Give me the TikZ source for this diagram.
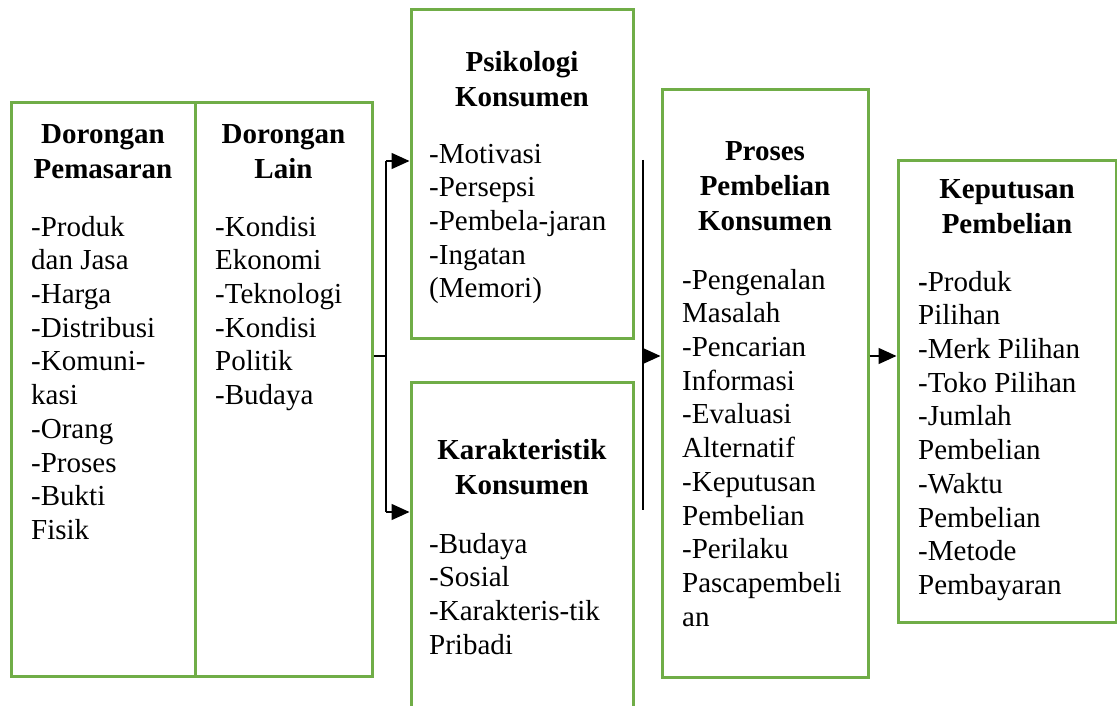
\documentclass[tikz,border=0pt]{standalone}
\usepackage{fontspec}
\setmainfont{Liberation Serif}
\usetikzlibrary{arrows.meta}
\definecolor{boxgreen}{HTML}{70AD47}
\begin{document}
\begin{tikzpicture}[x=1pt,y=-1pt,
 box/.style={draw=boxgreen, line width=3pt, rectangle, inner sep=0pt},
 head/.style={font=\fontsize{29}{35}\selectfont\bfseries, align=center, inner sep=0pt, anchor=north},
 body/.style={font=\fontsize{29}{33.7}\selectfont, align=left, inner sep=0pt, anchor=north west},
 conn/.style={line width=1.5pt},
 arr/.style={conn, -{Triangle[length=18pt,width=16pt]}}]
\useasboundingbox[fill=white] (0,0) rectangle (1117,706);
\clip (0,0) rectangle (1117,706);
% boxes
\node[box, minimum width=184pt, minimum height=573pt] (b1) at (103,389.5) {};
\node[box, minimum width=177pt, minimum height=573pt] (b2) at (283.5,389.5) {};
\node[box, minimum width=222pt, minimum height=328pt] (psy) at (522,174) {};
\node[box, minimum width=222pt, minimum height=333pt] (kar) at (522,548.5) {};
\node[box, minimum width=206pt, minimum height=587pt] (pro) at (765,383.5) {};
\node[box, minimum width=218pt, minimum height=461pt] (kep) at (1007,391.5) {};
% texts
\node[head] (b1h) at (103,118.5) {\strut Dorongan\\Pemasaran};
\node[body] (b1b) at (31,212.4) {\strut -Produk\\dan Jasa\\-Harga\\-Distribusi\\-Komuni-\\kasi\\-Orang\\-Proses\\-Bukti\\Fisik};
\node[head] (b2h) at (283.5,118.5) {\strut Dorongan\\Lain};
\node[body] (b2b) at (215,212.4) {\strut -Kondisi\\Ekonomi\\-Teknologi\\-Kondisi\\Politik\\-Budaya};
\node[head] (psyh) at (522,46.5) {\strut Psikologi\\Konsumen};
\node[body] (psyb) at (429,139.4) {\strut -Motivasi\\-Persepsi\\-Pembela-jaran\\-Ingatan\\(Memori)};
\node[head] (karh) at (522,434.5) {\strut Karakteristik\\Konsumen};
\node[body] (karb) at (429,529.4) {\strut -Budaya\\-Sosial\\-Karakteris-tik\\Pribadi};
\node[head] (proh) at (765,135.5) {\strut Proses\\Pembelian\\Konsumen};
\node[body] (prob) at (682,265.4) {\strut -Pengenalan\\Masalah\\-Pencarian\\Informasi\\-Evaluasi\\Alternatif\\-Keputusan\\Pembelian\\-Perilaku\\Pascapembeli\\an};
\node[head] (keph) at (1007,173.5) {\strut Keputusan\\Pembelian};
\node[body] (kepb) at (918,267.4) {\strut\textbf{-}Produk\\Pilihan\\-Merk Pilihan\\-Toko Pilihan\\-Jumlah\\Pembelian\\-Waktu\\Pembelian\\-Metode\\Pembayaran};
% connectors
\coordinate (ja) at (386,356);
\coordinate (jt) at (386,161);
\coordinate (jb) at (386,512);
\draw[conn] (ja -| b2.east) -- (ja);
\draw[conn] (jt) -- (jb);
\draw[arr] (jt) -- (jt -| psy.west);
\draw[arr] (jb) -- (jb -| kar.west);
\coordinate (kt) at (643,160);
\coordinate (kb) at (643,510);
\coordinate (km) at (643,356);
\draw[conn] (kt) -- (kb);
\draw[arr] (km) -- (km -| pro.west);
\draw[arr] (km -| pro.east) -- (km -| kep.west);
\end{tikzpicture}
\end{document}
